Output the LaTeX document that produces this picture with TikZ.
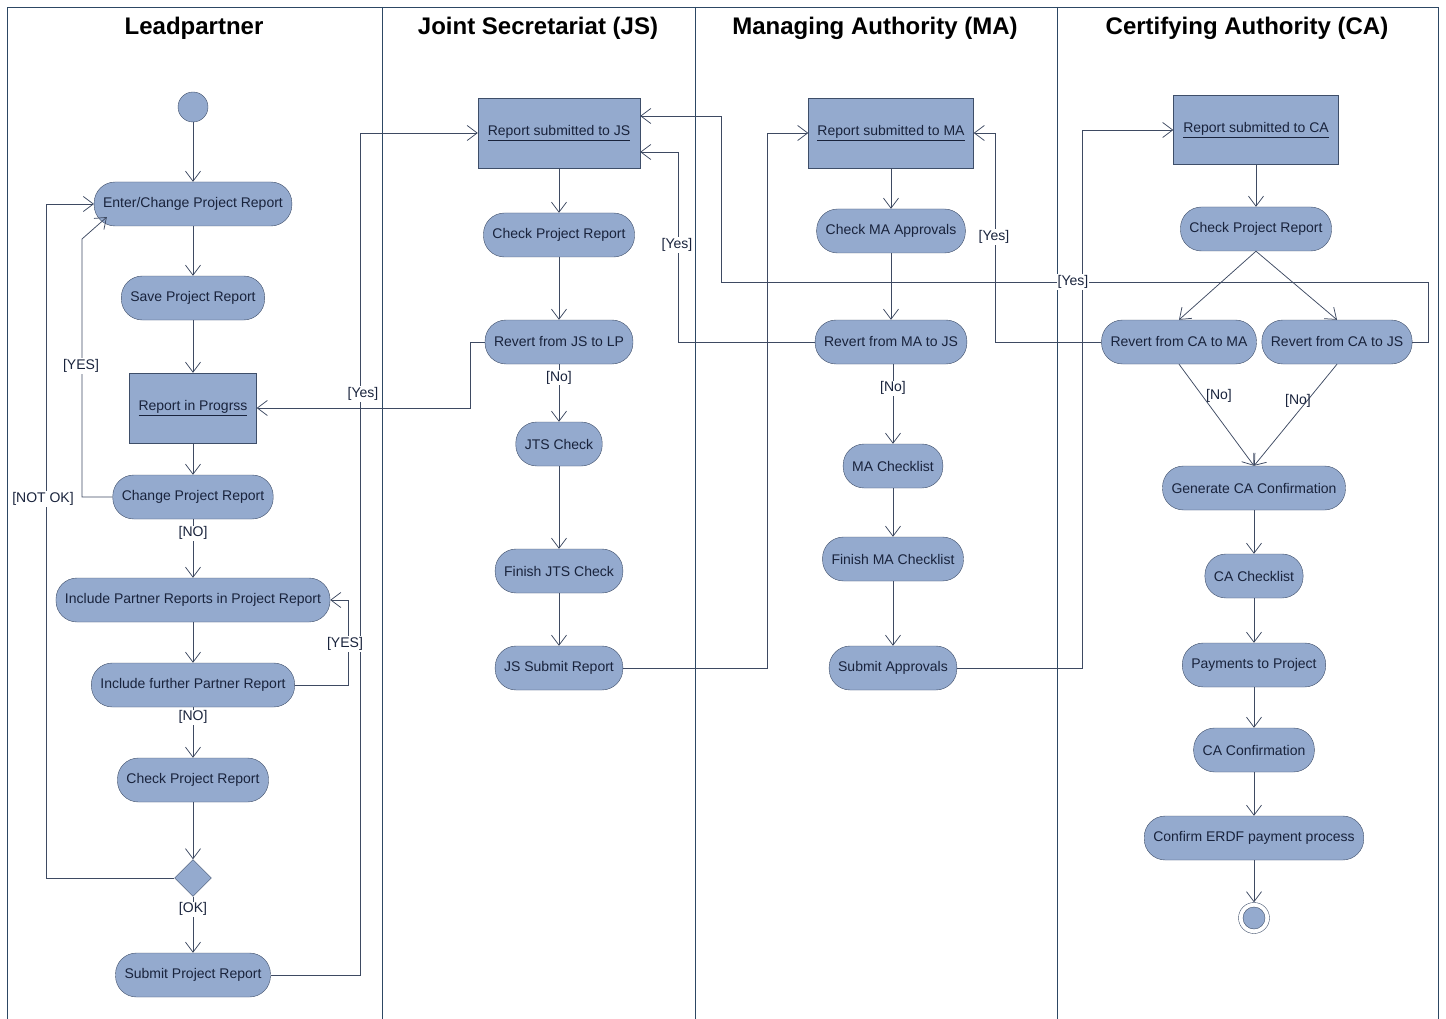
\documentclass[tikz,border=0pt]{standalone}
\usepackage{fontspec}
\setmainfont{Liberation Sans}
\usetikzlibrary{shapes,arrows.meta,positioning}

\definecolor{actfill}{RGB}{148,170,206}
\definecolor{actdraw}{RGB}{62,78,105}
\definecolor{txtc}{RGB}{25,35,60}
\definecolor{flowc}{RGB}{62,74,98}
\definecolor{lanec}{RGB}{45,72,100}

\begin{document}
\begin{tikzpicture}[
    x=1pt,y=-1pt,
    act/.style={rectangle,rounded corners=21pt,draw=actdraw,fill=actfill,text=txtc,
        minimum height=44pt,inner xsep=9pt,font=\fontsize{14}{16}\selectfont},
    obj/.style={rectangle,draw=actdraw,fill=actfill,text=txtc,minimum height=70pt,
        minimum width=162pt,font=\fontsize{14}{16}\selectfont},
    startnode/.style={circle,draw=actdraw,fill=actfill,minimum size=30pt,inner sep=0pt},
    endnode/.style={circle,draw=actdraw,fill=white,minimum size=31pt,inner sep=0pt,
        path picture={\fill[actfill,draw=actdraw] (path picture bounding box.center) circle (11pt);}},
    decision/.style={diamond,draw=actdraw,fill=actfill,minimum size=37pt,inner sep=0pt},
    lane/.style={draw=lanec,line width=0.8pt},
    flow/.style={-{Straight Barb[length=10pt,width=15pt]},draw=flowc,line width=0.75pt},
    guard/.style={fill=white,inner sep=1pt,text=txtc,font=\fontsize{14}{16}\selectfont},
    head/.style={font=\fontsize{24}{28}\selectfont\bfseries,text=black}
]
\useasboundingbox (0,0) rectangle (1446,1019);

% Swimlanes
\draw[lane] (7,1030) -- (7,7) -- (1438,7) -- (1438,1030);
\draw[lane] (382,7) -- (382,1030);
\draw[lane] (695,7) -- (695,1030);
\draw[lane] (1057,7) -- (1057,1030);
\node[head] (hlp) at (194,28) {Leadpartner};
\node[head] (hjs) at (538,28) {Joint Secretariat (JS)};
\node[head] (hma) at (875,28) {Managing Authority (MA)};
\node[head] (hca) at (1247,28) {Certifying Authority (CA)};

% Leadpartner
\node[startnode] (start) at (193,107) {};
\node[act] (enter) at (193,204) {Enter/Change Project Report};
\node[act] (save) at (193,298) {Save Project Report};
\node[obj,minimum width=127pt] (inprog) at (193,408) {\underline{Report in Progrss}};
\node[act] (change) at (193,497) {Change Project Report};
\node[act] (incl) at (193,600) {Include Partner Reports in Project Report};
\node[act] (further) at (193,685) {Include further Partner Report};
\node[act] (lpcheck) at (193,780) {Check Project Report};
\node[decision] (dec) at (193,878) {};
\node[act] (lpsubmit) at (193,975) {Submit Project Report};

% Joint Secretariat
\node[obj] (jsin) at (559,133) {\underline{Report submitted to JS}};
\node[act] (jscheck) at (559,235) {Check Project Report};
\node[act] (jsrev) at (559,342) {Revert from JS to LP};
\node[act] (jts) at (559,444) {JTS Check};
\node[act] (jtsfin) at (559,571) {Finish JTS Check};
\node[act] (jssub) at (559,668) {JS Submit Report};

% Managing Authority
\node[obj,minimum width=165pt] (main) at (891,133) {\underline{Report submitted to MA}};
\node[act] (macheck) at (891,231) {Check MA Approvals};
\node[act] (marev) at (891,342) {Revert from MA to JS};
\node[act] (malist) at (893,466) {MA Checklist};
\node[act] (mafin) at (893,559) {Finish MA Checklist};
\node[act] (masub) at (893,668) {Submit Approvals};

% Certifying Authority
\node[obj,minimum width=165pt,minimum height=69pt] (cain) at (1256,130) {\underline{Report submitted to CA}};
\node[act] (cacheck) at (1256,229) {Check Project Report};
\node[act] (carevma) at (1179,342) {Revert from CA to MA};
\node[act] (carevjs) at (1337,342) {Revert from CA to JS};
\node[act] (cagen) at (1254,488) {Generate CA Confirmation};
\node[act] (calist) at (1254,576) {CA Checklist};
\node[act] (capay) at (1254,665) {Payments to Project};
\node[act] (caconf) at (1254,750) {CA Confirmation};
\node[act] (caerdf) at (1254,838) {Confirm ERDF payment process};
\node[endnode] (stop) at (1254,918) {};

% Turning points
\coordinate (lpyes) at (82,239);
\coordinate (lpnotok) at (46,204);
\coordinate (lpmore) at (348,600);
\coordinate (lpout) at (360,133);
\coordinate (jsback) at (470,408);
\coordinate (jsout) at (767,133);
\coordinate (mabackjs) at (678,152);
\coordinate (mafork) at (893,380);
\coordinate (maout) at (1082,130);
\coordinate (cabackma) at (995,133);
\coordinate (cabackjs) at (1428,282);
\coordinate (cabackjs2) at (721,282);

% Arrows Leadpartner
\draw[flow] (start) -- (enter);
\draw[flow] (enter) -- (save);
\draw[flow] (save) -- (inprog);
\draw[flow] (inprog) -- (change);
\draw[flow] (change) -- node[guard,pos=0.24] {[NO]} (incl);
\draw[flow] (incl) -- (further);
\draw[flow] (further) -- node[guard,pos=0.2] {[NO]} (lpcheck);
\draw[flow] (lpcheck) -- (dec);
\draw[flow] (dec) -- node[guard,pos=0.22] {[OK]} (lpsubmit);
\draw[flow] (change.west) -| (lpyes) -- ([shift={(13,13)}]enter.west);
\draw[flow] (dec.west) -| (lpnotok) -- (enter.west);
\draw[flow] (further.east) -| (lpmore) -- (incl.east);
\draw[flow] (lpsubmit.east) -| (lpout) -- (jsin.west);
\node[guard] (gyes1) at (81,366) {[YES]};
\node[guard] (gnotok) at (43,499) {[NOT OK]};
\node[guard] (gyes2) at (345,644) {[YES]};

% Arrows Joint Secretariat
\draw[flow] (jsin) -- (jscheck);
\draw[flow] (jscheck) -- (jsrev);
\draw[flow] (jsrev) -- node[guard,pos=0.23] {[No]} (jts);
\draw[flow] (jts) -- (jtsfin);
\draw[flow] (jtsfin) -- (jssub);
\draw[flow] (jsrev.west) -| (jsback) -- (inprog.east);
\draw[flow] (jssub.east) -| (jsout) -- (main.west);
\node[guard] (gyes3) at (363,394) {[Yes]};

% Arrows Managing Authority
\draw[flow] (main) -- (macheck);
\draw[flow] (macheck) -- (marev);
\draw[flow] (marev.south -| mafork) -- node[guard,pos=0.3] {[No]} (malist.north);
\draw[flow] (malist) -- (mafin);
\draw[flow] (mafin) -- (masub);
\draw[flow] (marev.west) -| (mabackjs) -- ([shift={(0,19)}]jsin.east);
\draw[flow] (masub.east) -| (maout) -- (cain.west);
\node[guard] (gyes4) at (677,245) {[Yes]};

% Arrows Certifying Authority
\draw[flow] (cain) -- (cacheck);
\draw[flow] (cacheck.south) -- (carevma.north);
\draw[flow] (cacheck.south) -- (carevjs.north);
\draw[flow] (carevma.south) -- (cagen.north);
\draw[flow] (carevjs.south) -- (cagen.north);
\draw[flow] (cagen) -- (calist);
\draw[flow] (calist) -- (capay);
\draw[flow] (capay) -- (caconf);
\draw[flow] (caconf) -- (caerdf);
\draw[flow] (caerdf) -- (stop);
\draw[flow] (carevma.west) -| (cabackma) -- (main.east);
\draw[flow] (carevjs.east) -| (cabackjs) -- (cabackjs2) |- ([shift={(0,-17)}]jsin.east);
\node[guard] (gyes5) at (994,237) {[Yes]};
\node[guard] (gyes6) at (1073,282) {[Yes]};
\node[guard,fill=none] (gno1) at (1219,396) {[No]};
\node[guard,fill=none] (gno2) at (1298,401) {[No]};

\end{tikzpicture}
\end{document}
